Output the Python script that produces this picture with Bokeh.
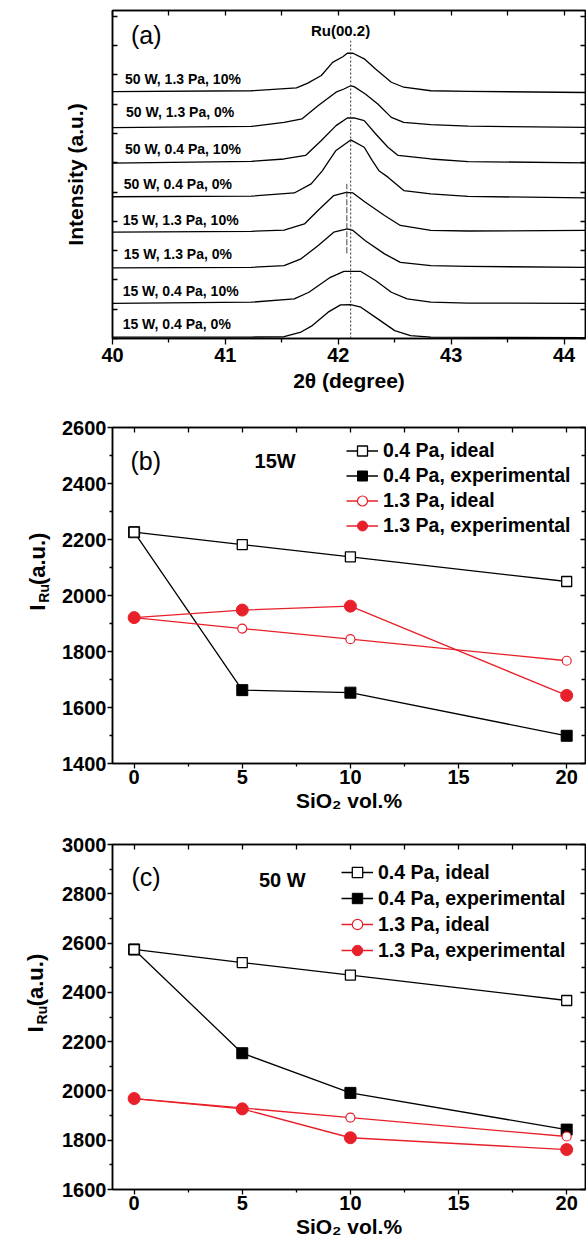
import math
from bokeh.plotting import figure
from bokeh.models import (LinearAxis, FixedTicker, Label, Legend, LegendItem, Range1d,
                          CustomLabelingPolicy)
from bokeh.core.properties import value
from bokeh.layouts import column, row
from bokeh.embed import file_html
from bokeh.resources import INLINE

FONT = "Liberation Sans"
RED = "#e8202a"

# ---------------- Panel (a): XRD patterns (offset, a.u.) ----------------
xrd_labels = ["50 W, 1.3 Pa, 10%", "50 W, 1.3 Pa, 0%", "50 W, 0.4 Pa, 10%", "50 W, 0.4 Pa, 0%",
              "15 W, 1.3 Pa, 10%", "15 W, 1.3 Pa, 0%", "15 W, 0.4 Pa, 10%", "15 W, 0.4 Pa, 0%"]

x_50w_13pa_10 = [40.00, 41.23, 41.63, 41.73, 41.85, 41.95, 42.04, 42.08, 42.13, 42.23, 42.33, 42.47, 42.58, 42.82, 43.15, 44.19]
y_50w_13pa_10 = [8.43, 8.46, 8.56, 8.72, 8.98, 9.43, 9.62, 9.74, 9.74, 9.55, 9.20, 8.75, 8.58, 8.46, 8.44, 8.40]

x_50w_13pa_0 = [40.00, 41.23, 41.52, 41.68, 41.82, 41.98, 42.05, 42.11, 42.14, 42.24, 42.35, 42.47, 42.58, 42.82, 43.15, 44.19]
y_50w_13pa_0 = [7.20, 7.24, 7.38, 7.50, 7.95, 8.41, 8.52, 8.63, 8.60, 8.35, 8.01, 7.55, 7.38, 7.30, 7.25, 7.21]

x_50w_04pa_10 = [40.00, 41.23, 41.52, 41.71, 41.85, 41.98, 42.08, 42.14, 42.23, 42.33, 42.44, 42.53, 42.82, 43.15, 44.19]
y_50w_04pa_10 = [5.99, 6.05, 6.13, 6.25, 6.76, 7.27, 7.53, 7.53, 7.44, 6.99, 6.53, 6.25, 6.13, 6.04, 6.00]

x_50w_04pa_0 = [40.00, 41.23, 41.61, 41.76, 41.86, 41.92, 41.98, 42.11, 42.23, 42.30, 42.36, 42.44, 42.58, 42.82, 43.15, 44.19]
y_50w_04pa_0 = [4.84, 4.86, 4.97, 5.28, 5.73, 6.08, 6.42, 6.78, 6.53, 6.08, 5.73, 5.51, 5.05, 4.94, 4.85, 4.80]

x_15w_13pa_10 = [40.00, 41.23, 41.52, 41.70, 41.82, 41.96, 42.07, 42.13, 42.24, 42.41, 42.55, 42.82, 43.15, 44.19]
y_15w_13pa_10 = [3.63, 3.66, 3.70, 3.91, 4.37, 4.88, 4.99, 4.97, 4.65, 4.20, 3.86, 3.69, 3.67, 3.69]

x_15w_13pa_0 = [40.00, 41.23, 41.52, 41.67, 41.82, 41.96, 42.08, 42.13, 42.24, 42.41, 42.55, 42.82, 43.15, 44.19]
y_15w_13pa_0 = [2.41, 2.43, 2.49, 2.72, 3.17, 3.63, 3.74, 3.69, 3.34, 2.89, 2.60, 2.49, 2.46, 2.43]

x_15w_04pa_10 = [40.00, 41.23, 41.61, 41.74, 41.93, 42.05, 42.20, 42.33, 42.47, 42.61, 42.82, 43.15, 44.19]
y_15w_04pa_10 = [1.20, 1.24, 1.35, 1.58, 2.09, 2.29, 2.29, 1.98, 1.58, 1.35, 1.24, 1.21, 1.20]

x_15w_04pa_0 = [40.00, 41.23, 41.52, 41.67, 41.77, 41.91, 42.02, 42.11, 42.20, 42.35, 42.50, 42.64, 42.82, 44.19]
y_15w_04pa_0 = [0.05, 0.05, 0.06, 0.22, 0.44, 0.90, 1.15, 1.16, 1.07, 0.67, 0.27, 0.10, 0.05, 0.03]

xrd_x = [x_50w_13pa_10, x_50w_13pa_0, x_50w_04pa_10, x_50w_04pa_0,
         x_15w_13pa_10, x_15w_13pa_0, x_15w_04pa_10, x_15w_04pa_0]
xrd_y = [y_50w_13pa_10, y_50w_13pa_0, y_50w_04pa_10, y_50w_04pa_0,
         y_15w_13pa_10, y_15w_13pa_0, y_15w_04pa_10, y_15w_04pa_0]

ru_peak_2theta = 42.11
ru_line_top = 10.17
ref15_2theta = 42.076
ref15_span = [2.91, 5.28]

xrd_xticks = [40, 41, 42, 43, 44]
xrd_xminor = [40.5, 41.5, 42.5, 43.5]
xrd_yticks = list(range(0, 12))

xrd_label_x = [40.11, 40.12, 40.11, 40.10, 40.09, 40.10, 40.09, 40.09]
xrd_label_y = [8.86, 7.72, 6.47, 5.28, 4.04, 2.87, 1.61, 0.48]

# ---------------- Panels (b), (c) ----------------
sio2 = [0, 5, 10, 20]
b_04_ideal = [2226, 2182, 2138, 2050]
b_04_exp = [2226, 1662, 1653, 1499]
b_13_ideal = [1921, 1882, 1844, 1767]
b_13_exp = [1921, 1948, 1962, 1643]

c_04_ideal = [2574, 2521, 2470, 2367]
c_04_exp = [2574, 2153, 1992, 1843]
c_13_ideal = [1969, 1931, 1892, 1815]
c_13_exp = [1969, 1927, 1810, 1762]

series_names = ["0.4 Pa, ideal", "0.4 Pa, experimental", "1.3 Pa, ideal", "1.3 Pa, experimental"]
sio2_ticks = [0, 5, 10, 15, 20]
sio2_minor = [2.5, 7.5, 12.5, 17.5]


def tick_axis(ax, major, minor, tin, tout, mtin, mtout, labels=True, standoff=2):
    ax.ticker = FixedTicker(ticks=major, minor_ticks=minor)
    ax.axis_line_color = "black"
    ax.axis_line_width = 1.5
    ax.major_tick_line_color = "black"
    ax.minor_tick_line_color = "black"
    ax.major_tick_line_width = 1.3
    ax.minor_tick_line_width = 1.3
    ax.major_tick_in = tin
    ax.major_tick_out = tout
    ax.minor_tick_in = mtin
    ax.minor_tick_out = mtout
    if labels:
        ax.major_label_text_font = FONT
        ax.major_label_text_font_size = "20px"
        ax.major_label_text_font_style = "bold"
        ax.major_label_text_color = "black"
        ax.major_label_standoff = standoff
    else:
        ax.major_label_text_font_size = "0px"
        ax.major_label_standoff = 0
        ax.major_label_policy = CustomLabelingPolicy(code="return []")
    ax.axis_label_text_font = FONT
    ax.axis_label_text_font_style = "bold"
    ax.axis_label_text_font_size = "21px"
    ax.axis_label_text_color = "black"
    return ax


def base_fig(w, h, xr, yr, left, top, bottom):
    p = figure(width=w, height=h, x_range=Range1d(*xr), y_range=Range1d(*yr),
               output_backend="svg", toolbar_location=None,
               x_axis_location=None, y_axis_location=None,
               min_border_left=left, min_border_right=1,
               min_border_top=top, min_border_bottom=bottom)
    p.grid.visible = False
    p.outline_line_color = "black"
    p.outline_line_width = 1.5
    p.background_fill_color = "white"
    p.border_fill_color = "white"
    return p


def label(p, x, y, text, size, bold=True, align="left", baseline="middle", angle=0.0, color="black"):
    p.add_layout(Label(x=x, y=y, text=text, text_font=FONT, text_font_size=size,
                       text_font_style="bold" if bold else "normal", text_align=align,
                       text_baseline=baseline, angle=angle, text_color=color))


# ---------- (a) ----------
pa = base_fig(586, 405, (40, 44.19), (0, 11.2), 112, 10, 67)
ax = tick_axis(LinearAxis(), xrd_xticks, xrd_xminor, 0, 6, 0, 4, True, 3)
ax.axis_label = "2θ (degree)"
ax.axis_label_standoff = 4
pa.add_layout(ax, "below")
pa.add_layout(tick_axis(LinearAxis(), xrd_xticks, xrd_xminor, 5, 0, 5, 0, False), "above")
ay = tick_axis(LinearAxis(), xrd_yticks, [], 5, 0, 0, 0, False)
ay.axis_label = "Intensity (a.u.)"
ay.axis_label_standoff = 26
pa.add_layout(ay, "left")
pa.add_layout(tick_axis(LinearAxis(), xrd_yticks, [], 5, 0, 0, 0, False), "right")

for xs, ys in zip(xrd_x, xrd_y):
    pa.line(xs, ys, line_color="black", line_width=1.3, line_join="round")
pa.line([ru_peak_2theta, ru_peak_2theta], [0, ru_line_top], line_color="#333333",
        line_width=1.0, line_dash="2 2")
pa.line([ref15_2theta, ref15_2theta], ref15_span, line_color="#444444",
        line_width=1.0, line_dash="6 2")
for t, lx, ly in zip(xrd_labels, xrd_label_x, xrd_label_y):
    label(pa, lx, ly, t, "14px")
label(pa, 42.02, 10.51, "Ru(00.2)", "15px", align="center")
label(pa, 40.164, 10.38, "(a)", "25px", bold=False)


# ---------- (b), (c) ----------
TITLE_W = 52


def title_fig(h, pieces):
    """Narrow strip holding the rotated y title I_Ru (a.u.)."""
    t = figure(width=TITLE_W, height=h, x_range=Range1d(0, TITLE_W), y_range=Range1d(0, h),
               output_backend="svg", toolbar_location=None,
               x_axis_location=None, y_axis_location=None, min_border=0)
    t.grid.visible = False
    t.outline_line_color = None
    t.background_fill_color = "white"
    t.border_fill_color = "white"
    for txt, x, y, size in pieces:
        t.text(x=[x], y=[y], text=[txt], angle=math.pi / 2, text_align="left",
               text_baseline="alphabetic", text_font=value(FONT), text_font_size=size,
               text_font_style="bold", text_color="black")
    return t


def sio2_fig(h, yr, yticks, yminor, top, bottom, d04i, d04e, d13i, d13e, leg_loc, leg_h,
             tag, tag_xy, power, power_xy):
    p = base_fig(586 - TITLE_W, h, (-1, 20.87), yr, 112 - TITLE_W, top, bottom)
    bx = tick_axis(LinearAxis(), sio2_ticks, sio2_minor, 0, 5, 0, 3, True, 1)
    bx.axis_label = "SiO₂ vol.%"
    bx.axis_label_standoff = 2
    p.add_layout(bx, "below")
    p.add_layout(tick_axis(LinearAxis(), sio2_ticks, sio2_minor, 5, 0, 5, 0, False), "above")
    p.add_layout(tick_axis(LinearAxis(), yticks, yminor, 0, 5, 0, 3, True, 1), "left")
    p.add_layout(tick_axis(LinearAxis(), yticks, yminor, 5, 0, 4, 0, False), "right")

    l_04e = p.line(sio2, d04e, line_color="black", line_width=1.3)
    l_04i = p.line(sio2, d04i, line_color="black", line_width=1.3)
    l_13i = p.line(sio2, d13i, line_color=RED, line_width=1.3)
    l_13e = p.line(sio2, d13e, line_color=RED, line_width=1.3)
    m_04e = p.scatter(sio2, d04e, marker="square", size=11, fill_color="black", line_color="black")
    m_04i = p.scatter(sio2, d04i, marker="square", size=10, fill_color="white", line_color="black",
                      line_width=1.3)
    m_13i = p.scatter(sio2, d13i, marker="circle", size=9, fill_color="white", line_color=RED,
                      line_width=1.2)
    m_13e = p.scatter(sio2, d13e, marker="circle", size=12, fill_color=RED, line_color=RED)

    items = [LegendItem(label=series_names[0], renderers=[l_04i, m_04i]),
             LegendItem(label=series_names[1], renderers=[l_04e, m_04e]),
             LegendItem(label=series_names[2], renderers=[l_13i, m_13i]),
             LegendItem(label=series_names[3], renderers=[l_13e, m_13e])]
    leg = Legend(items=items, location=leg_loc, background_fill_alpha=0, border_line_alpha=0,
                 padding=0, margin=0, spacing=0, glyph_width=32, glyph_height=leg_h,
                 label_height=leg_h, label_standoff=5, label_text_font=FONT,
                 label_text_font_size="19.5px", label_text_font_style="bold",
                 label_text_color="black")
    p.add_layout(leg)

    label(p, tag_xy[0], tag_xy[1], tag, "25px", bold=False)
    label(p, power_xy[0], power_xy[1], power, "20px")
    return p


pb = sio2_fig(420, (1400, 2600), [1400, 1600, 1800, 2000, 2200, 2400, 2600],
              [1500, 1700, 1900, 2100, 2300, 2500], 22, 62,
              b_04_ideal, b_04_exp, b_13_ideal, b_13_exp, (234, 225), 25,
              "(b)", (-0.17, 2482), "15W", (5.57, 2480))
tb = title_fig(420, [("I", 37, 191, "22px"), ("Ru", 43, 201, "14px"), ("(a.u.)", 37, 223, "22px")])

pc = sio2_fig(420, (1600, 3000), [1600, 1800, 2000, 2200, 2400, 2600, 2800, 3000],
              [1700, 1900, 2100, 2300, 2500, 2700, 2900], 19, 56,
              c_04_ideal, c_04_exp, c_13_ideal, c_13_exp, (229, 226), 26,
              "(c)", (-0.12, 2867), "50 W", (5.77, 2854))
tc = title_fig(420, [("I", 35, 191, "22px"), ("Ru", 41, 201, "14px"), ("(a.u.)", 35, 223, "22px")])

layout = column(pa, row(tb, pb, spacing=0), row(tc, pc, spacing=0), spacing=0)
open("out.html", "w").write(file_html(layout, INLINE))
